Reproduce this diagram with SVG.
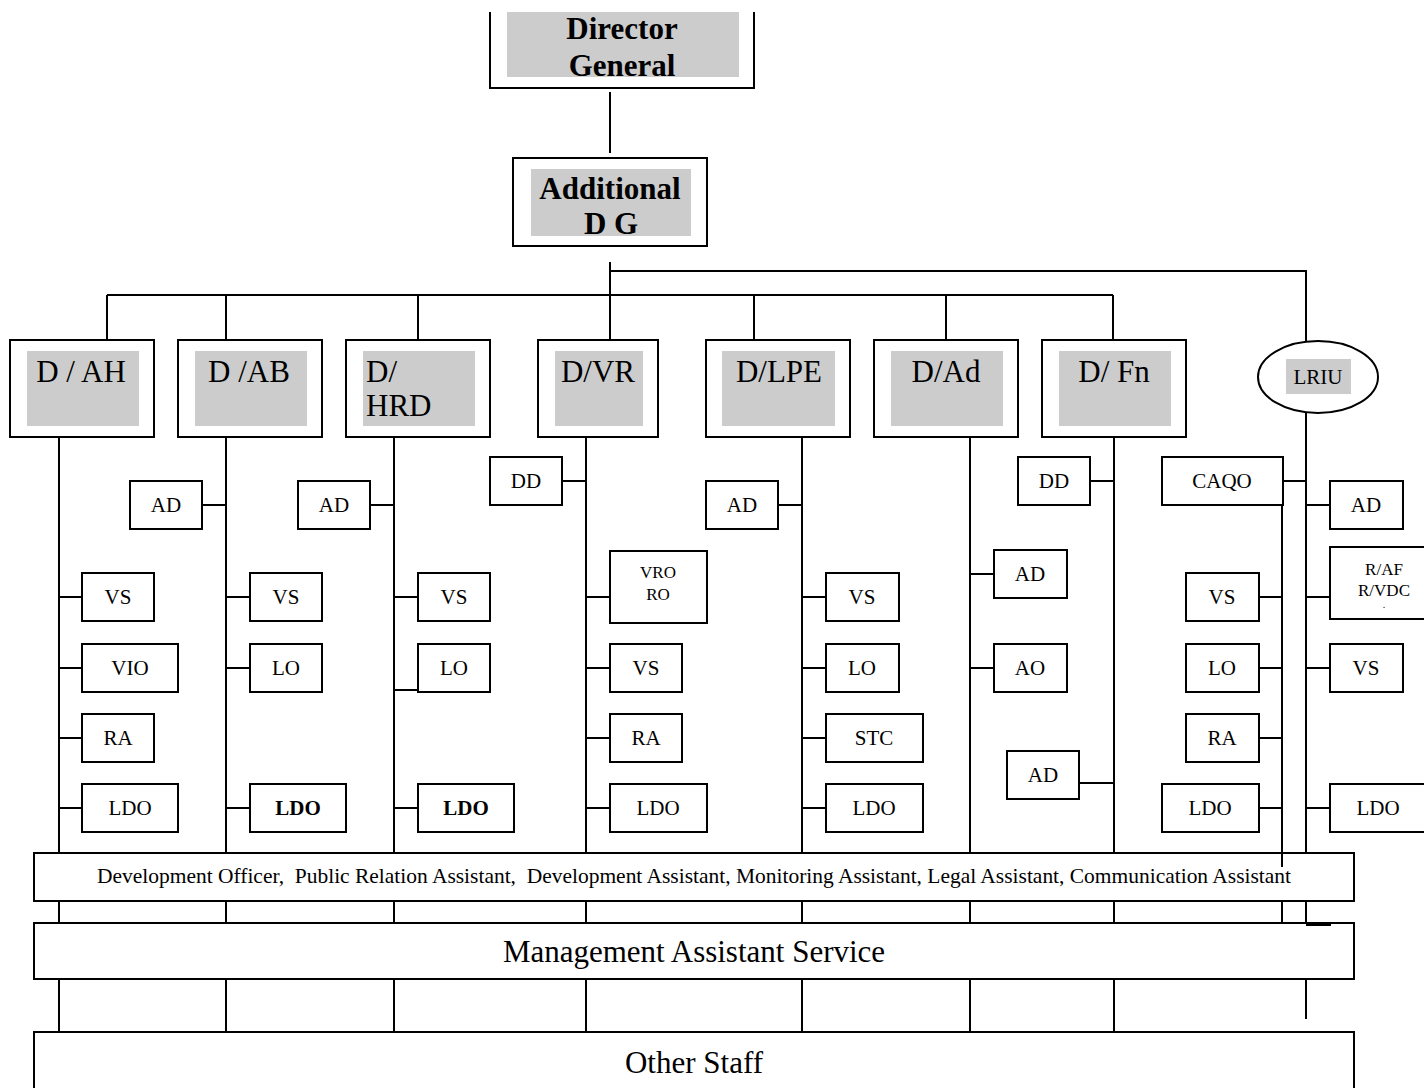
<svg xmlns="http://www.w3.org/2000/svg" width="1424" height="1088" viewBox="0 0 1424 1088">
<style>
.box{fill:#fff;stroke:#000;stroke-width:2}
.gray{fill:#cccccc}
.ln{stroke:#000;stroke-width:2;fill:none}
text{font-family:"Liberation Serif","Times New Roman",serif;fill:#000}
.big{font-size:31px}
.sm{font-size:21px}
.xs{font-size:17px}
.b{font-weight:bold}
.c{text-anchor:middle}
</style>
<rect width="1424" height="1088" fill="#fff"/>
<g id="connectors" class="ln">
<path d="M610,92V153"/>
<path d="M610,262V340M610,271H1306V341M107,295H1113M107,295V340M226,295V340M418,295V340M754,295V340M946,295V340M1113,295V340"/>
<!-- column verticals -->
<path d="M59,437V853M59,901V923M59,979V1032"/>
<path d="M226,437V853M226,901V923M226,979V1032"/>
<path d="M394,437V853M394,901V923M394,979V1032"/>
<path d="M586,437V853M586,901V923M586,979V1032"/>
<path d="M802,437V853M802,901V923M802,979V1032"/>
<path d="M970,437V853M970,901V923M970,979V1032"/>
<path d="M1114,437V853M1114,901V923M1114,979V1032"/>
<path d="M1282,505V867M1282,901V926"/>
<path d="M1306,413V853M1306,901V925H1331M1306,979V1019"/>
<!-- col1 -->
<path d="M59,597H82M59,668H82M59,738H82M59,808H82"/>
<!-- col2 -->
<path d="M202,505H226M226,597H250M226,668H250M226,808H250"/>
<!-- col3 -->
<path d="M370,505H394M394,597H418M394,690H418M394,808H418"/>
<!-- col4 -->
<path d="M562,481H586M586,597H610M586,668H610M586,738H610M586,808H610"/>
<!-- col5 -->
<path d="M778,505H802M802,597H826M802,668H826M802,738H826M802,808H826"/>
<!-- col6/7 -->
<path d="M970,574H994M970,668H994M1090,481H1114M1079,783H1114"/>
<!-- col8 / LRIU -->
<path d="M1283,481H1306M1259,597H1282M1259,668H1282M1259,738H1282M1259,808H1282"/>
<path d="M1306,505H1330M1306,597H1330M1306,668H1330M1306,808H1330"/>
</g>

<g id="director-general">
<rect class="gray" x="507" y="12" width="232" height="65"/>
<path class="ln" d="M490,12V88H754V12"/>
<text class="big b c" x="622" y="39">Director</text>
<text class="big b c" x="622" y="76">General</text>
</g>
<g id="additional-dg">
<rect class="box" x="513" y="158" width="194" height="88"/>
<rect class="gray" x="531" y="169" width="160" height="67"/>
<text class="big b c" x="610" y="199">Additional</text>
<text class="big b c" x="611" y="234">D G</text>
</g>

<g id="d-ah"><rect class="box" x="10" y="340" width="144" height="97"/><rect class="gray" x="27" y="351" width="112" height="75"/><text class="big c" x="81" y="382">D / AH</text></g>
<g id="d-ab"><rect class="box" x="178" y="340" width="144" height="97"/><rect class="gray" x="195" y="351" width="112" height="75"/><text class="big c" x="249" y="382">D /AB</text></g>
<g id="d-hrd"><rect class="box" x="346" y="340" width="144" height="97"/><rect class="gray" x="363" y="351" width="112" height="75"/><text class="big" x="366" y="382">D/</text><text class="big" x="366" y="416">HRD</text></g>
<g id="d-vr"><rect class="box" x="538" y="340" width="120" height="97"/><rect class="gray" x="555" y="351" width="88" height="75"/><text class="big c" x="598" y="382">D/VR</text></g>
<g id="d-lpe"><rect class="box" x="706" y="340" width="144" height="97"/><rect class="gray" x="722" y="351" width="113" height="75"/><text class="big c" x="779" y="382">D/LPE</text></g>
<g id="d-ad"><rect class="box" x="874" y="340" width="144" height="97"/><rect class="gray" x="891" y="351" width="112" height="75"/><text class="big c" x="946" y="382">D/Ad</text></g>
<g id="d-fn"><rect class="box" x="1042" y="340" width="144" height="97"/><rect class="gray" x="1059" y="351" width="112" height="75"/><text class="big c" x="1114" y="382">D/ Fn</text></g>
<g id="lriu"><ellipse class="box" cx="1318" cy="377" rx="60" ry="36"/><rect class="gray" x="1286" y="359" width="65" height="35"/><text class="sm c" x="1318" y="384">LRIU</text></g>

<!-- col1 -->
<g id="ah-vs"><rect class="box" x="82" y="573" width="72" height="48"/><text class="sm c" x="118" y="604">VS</text></g>
<g id="ah-vio"><rect class="box" x="82" y="644" width="96" height="48"/><text class="sm c" x="130" y="675">VIO</text></g>
<g id="ah-ra"><rect class="box" x="82" y="714" width="72" height="48"/><text class="sm c" x="118" y="745">RA</text></g>
<g id="ah-ldo"><rect class="box" x="82" y="784" width="96" height="48"/><text class="sm c" x="130" y="815">LDO</text></g>
<!-- col2 -->
<g id="ab-ad"><rect class="box" x="130" y="481" width="72" height="48"/><text class="sm c" x="166" y="512">AD</text></g>
<g id="ab-vs"><rect class="box" x="250" y="573" width="72" height="48"/><text class="sm c" x="286" y="604">VS</text></g>
<g id="ab-lo"><rect class="box" x="250" y="644" width="72" height="48"/><text class="sm c" x="286" y="675">LO</text></g>
<g id="ab-ldo"><rect class="box" x="250" y="784" width="96" height="48"/><text class="sm c b" x="298" y="815">LDO</text></g>
<!-- col3 -->
<g id="hrd-ad"><rect class="box" x="298" y="481" width="72" height="48"/><text class="sm c" x="334" y="512">AD</text></g>
<g id="hrd-vs"><rect class="box" x="418" y="573" width="72" height="48"/><text class="sm c" x="454" y="604">VS</text></g>
<g id="hrd-lo"><rect class="box" x="418" y="644" width="72" height="48"/><text class="sm c" x="454" y="675">LO</text></g>
<g id="hrd-ldo"><rect class="box" x="418" y="784" width="96" height="48"/><text class="sm c b" x="466" y="815">LDO</text></g>
<!-- col4 -->
<g id="vr-dd"><rect class="box" x="490" y="457" width="72" height="48"/><text class="sm c" x="526" y="488">DD</text></g>
<g id="vr-vro"><rect class="box" x="610" y="551" width="97" height="72"/><text class="xs c" x="658" y="578">VRO</text><text class="xs c" x="658" y="600">RO</text></g>
<g id="vr-vs"><rect class="box" x="610" y="644" width="72" height="48"/><text class="sm c" x="646" y="675">VS</text></g>
<g id="vr-ra"><rect class="box" x="610" y="714" width="72" height="48"/><text class="sm c" x="646" y="745">RA</text></g>
<g id="vr-ldo"><rect class="box" x="610" y="784" width="97" height="48"/><text class="sm c" x="658" y="815">LDO</text></g>
<!-- col5 -->
<g id="lpe-ad"><rect class="box" x="706" y="481" width="72" height="48"/><text class="sm c" x="742" y="512">AD</text></g>
<g id="lpe-vs"><rect class="box" x="826" y="573" width="73" height="48"/><text class="sm c" x="862" y="604">VS</text></g>
<g id="lpe-lo"><rect class="box" x="826" y="644" width="73" height="48"/><text class="sm c" x="862" y="675">LO</text></g>
<g id="lpe-stc"><rect class="box" x="826" y="714" width="97" height="48"/><text class="sm c" x="874" y="745">STC</text></g>
<g id="lpe-ldo"><rect class="box" x="826" y="784" width="97" height="48"/><text class="sm c" x="874" y="815">LDO</text></g>
<!-- col6 -->
<g id="ad-ad"><rect class="box" x="994" y="550" width="73" height="48"/><text class="sm c" x="1030" y="581">AD</text></g>
<g id="ad-ao"><rect class="box" x="994" y="644" width="73" height="48"/><text class="sm c" x="1030" y="675">AO</text></g>
<!-- col7 -->
<g id="fn-dd"><rect class="box" x="1018" y="457" width="72" height="48"/><text class="sm c" x="1054" y="488">DD</text></g>
<g id="fn-ad"><rect class="box" x="1007" y="751" width="72" height="48"/><text class="sm c" x="1043" y="782">AD</text></g>
<!-- col8 -->
<g id="caqo"><rect class="box" x="1162" y="457" width="121" height="48"/><text class="sm c" x="1222" y="488">CAQO</text></g>
<g id="c-vs"><rect class="box" x="1186" y="573" width="73" height="48"/><text class="sm c" x="1222" y="604">VS</text></g>
<g id="c-lo"><rect class="box" x="1186" y="644" width="73" height="48"/><text class="sm c" x="1222" y="675">LO</text></g>
<g id="c-ra"><rect class="box" x="1186" y="714" width="73" height="48"/><text class="sm c" x="1222" y="745">RA</text></g>
<g id="c-ldo"><rect class="box" x="1162" y="784" width="97" height="48"/><text class="sm c" x="1210" y="815">LDO</text></g>
<!-- LRIU column -->
<g id="l-ad"><rect class="box" x="1330" y="481" width="73" height="48"/><text class="sm c" x="1366" y="512">AD</text></g>
<g id="l-raf"><rect class="box" x="1330" y="547" width="110" height="72"/><text class="xs c" x="1384" y="575">R/AF</text><text class="xs c" x="1384" y="596">R/VDC</text><text class="c" style="font-size:10px" x="1384" y="608">.</text></g>
<g id="l-vs"><rect class="box" x="1330" y="644" width="73" height="48"/><text class="sm c" x="1366" y="675">VS</text></g>
<g id="l-ldo"><rect class="box" x="1330" y="784" width="100" height="48"/><text class="sm c" x="1378" y="815">LDO</text></g>

<g id="dev-bar"><rect class="box" x="34" y="853" width="1320" height="48"/><text class="sm" x="97" y="883" style="white-space:pre" textLength="1194" lengthAdjust="spacingAndGlyphs">Development Officer,  Public Relation Assistant,  Development Assistant, Monitoring Assistant, Legal Assistant, Communication Assistant</text></g>
<path class="ln" d="M1282,853V867"/>
<g id="mgmt-bar"><rect class="box" x="34" y="923" width="1320" height="56"/><text class="big c" x="694" y="962">Management Assistant Service</text></g>
<path class="ln" d="M1306,925H1331"/>
<g id="other-staff"><rect class="box" x="34" y="1032" width="1320" height="70"/><text class="big c" x="694" y="1073">Other Staff</text></g>
</svg>
